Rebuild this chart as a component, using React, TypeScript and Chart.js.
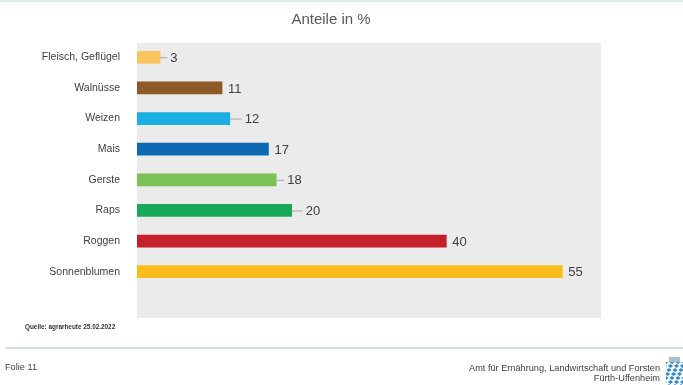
import React, { useEffect, useRef } from "react";
import { Chart, registerables } from "chart.js";

Chart.register(...registerables);

const categories = [
  "Fleisch, Geflügel",
  "Walnüsse",
  "Weizen",
  "Mais",
  "Gerste",
  "Raps",
  "Roggen",
  "Sonnenblumen",
];
const values = [3, 11, 12, 17, 18, 20, 40, 55];
const barColors = [
  "#FBC45E",
  "#8E5A27",
  "#1AAEE3",
  "#0F68B2",
  "#7CC154",
  "#18A85A",
  "#C61F2A",
  "#F8BD1A",
];
const leaderLengths = [7, 0, 12, 0, 8, 11, 0, 0];
const titleText = "Anteile in %";
const sourceText = "Quelle: agrarheute 25.02.2022";
const slideText = "Folie 11";
const officeLine1 = "Amt für Ernährung, Landwirtschaft und Forsten";
const officeLine2 = "Fürth-Uffenheim";

const FONT = "'Liberation Sans', Arial, sans-serif";

const slidePlugin = {
  id: "slide",
  beforeDraw(chart: any) {
    const { ctx, chartArea, width, height } = chart;
    ctx.save();
    ctx.fillStyle = "#ffffff";
    ctx.fillRect(0, 0, width, height);
    // top line
    ctx.fillStyle = "#DCEEE2";
    ctx.fillRect(0, 0, width, 2);
    // gray plot background
    ctx.fillStyle = "#EBEBEB";
    ctx.fillRect(
      chartArea.left,
      chartArea.top + 1,
      chartArea.right - chartArea.left,
      chartArea.bottom - chartArea.top + 30
    );
    // title
    ctx.fillStyle = "#595959";
    ctx.font = `15px ${FONT}`;
    ctx.textAlign = "center";
    ctx.textBaseline = "middle";
    ctx.fillText(titleText, 331, 20);
    // source
    ctx.fillStyle = "#333333";
    ctx.font = `bold 6.4px ${FONT}`;
    ctx.textAlign = "left";
    ctx.fillText(sourceText, 25, 327);
    // separator
    ctx.fillStyle = "#CFE3D4";
    ctx.fillRect(5, 347, width - 5, 2);
    // footer
    ctx.fillStyle = "#404040";
    ctx.font = `9.2px ${FONT}`;
    ctx.textAlign = "left";
    ctx.fillText(slideText, 5, 367);
    ctx.textAlign = "right";
    ctx.fillText(officeLine1, 660, 368);
    ctx.fillText(officeLine2, 660, 378);
    // logo (lozenges)
    const lx = 666, ly = 357, lw = 17, lh = 28;
    ctx.fillStyle = "#ffffff";
    ctx.fillRect(lx, ly, lw, lh);
    ctx.save();
    ctx.beginPath();
    ctx.rect(lx, ly + 5, lw, lh - 5);
    ctx.clip();
    ctx.fillStyle = "#2F8AD0";
    for (let r = -2; r < 9; r++) {
      for (let c = -3; c < 6; c++) {
        const cx = lx + c * 6 + (r % 2 ? 3 : 0) + r * 1.5;
        const cy = ly + 5 + r * 4;
        ctx.beginPath();
        ctx.moveTo(cx, cy - 2);
        ctx.lineTo(cx + 2.6, cy);
        ctx.lineTo(cx, cy + 2);
        ctx.lineTo(cx - 2.6, cy);
        ctx.closePath();
        ctx.fill();
      }
    }
    ctx.restore();
    ctx.fillStyle = "#A9BFCF";
    ctx.fillRect(lx + 3, ly, lw - 6, 5);
    ctx.restore();
  },
  afterDatasetsDraw(chart: any) {
    const { ctx } = chart;
    const meta = chart.getDatasetMeta(0);
    ctx.save();
    meta.data.forEach((bar: any, i: number) => {
      const end = bar.x;
      const y = bar.y;
      const lead = leaderLengths[i];
      if (lead > 0) {
        ctx.strokeStyle = "#A6A6A6";
        ctx.lineWidth = 1;
        ctx.beginPath();
        ctx.moveTo(end, y + 0.5);
        ctx.lineTo(end + lead, y + 0.5);
        ctx.stroke();
      }
      ctx.fillStyle = "#404040";
      ctx.font = `13px ${FONT}`;
      ctx.textAlign = "left";
      ctx.textBaseline = "middle";
      ctx.fillText(String(values[i]), end + (lead > 0 ? lead + 3 : 6), y + 1);
    });
    ctx.restore();
  },
};

export default function App() {
  const ref = useRef<HTMLCanvasElement>(null);
  useEffect(() => {
    if (!ref.current) return;
    const chart = new Chart(ref.current, {
      type: "bar",
      data: {
        labels: categories,
        datasets: [
          {
            data: values,
            backgroundColor: barColors,
            barThickness: 12,
            borderWidth: 0,
          },
        ],
      },
      options: {
        indexAxis: "y",
        responsive: false,
        animation: false,
        layout: { padding: { top: 42, bottom: 98, left: 0, right: 82 } },
        plugins: {
          legend: { display: false },
          tooltip: { enabled: false },
          title: { display: false },
        },
        scales: {
          x: { min: 0, max: 60, display: false },
          y: {
            grid: { display: false },
            border: { display: false },
            ticks: {
              color: "#404040",
              padding: 9,
              font: { family: FONT, size: 10.5 },
            },
            afterFit: (s: any) => {
              s.width = 137;
            },
          },
        },
      },
      plugins: [slidePlugin],
    });
    return () => chart.destroy();
  }, []);
  return (
    <div style={{ position: "fixed", left: 0, top: 0, width: 683, height: 385 }}>
      <canvas ref={ref} width={683} height={385} />
    </div>
  );
}
